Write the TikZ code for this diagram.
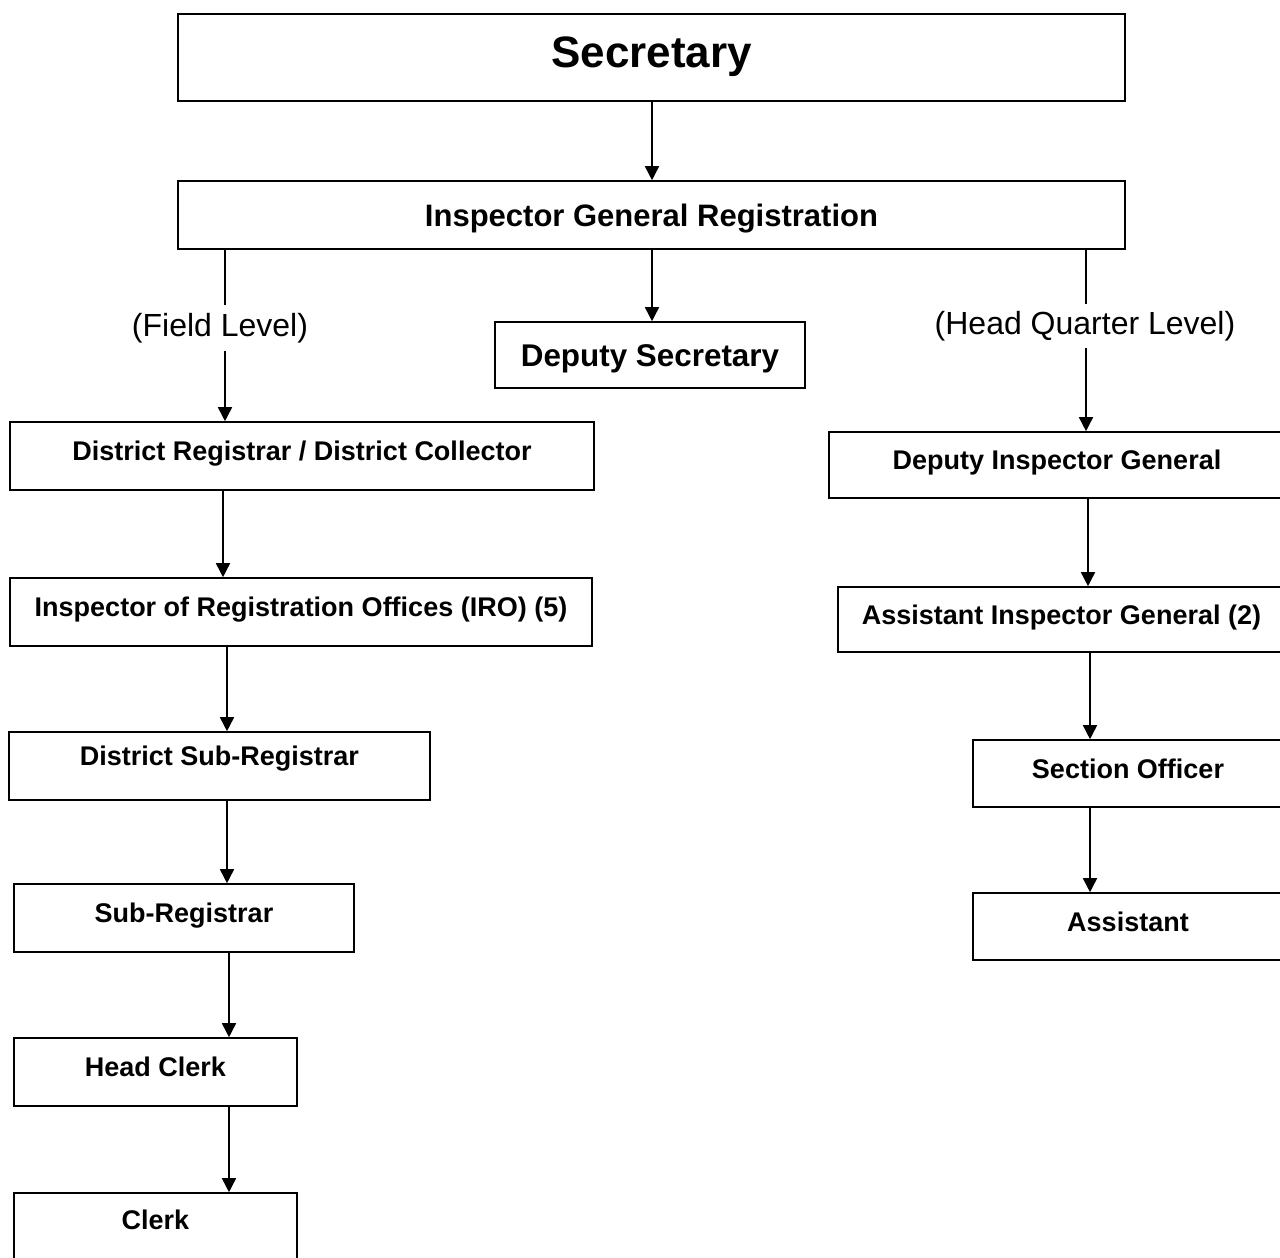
\documentclass[tikz,border=0pt]{standalone}
\usepackage{fontspec}
\setmainfont{Liberation Sans}
\usetikzlibrary{arrows.meta}
\begin{document}
\begin{tikzpicture}[x=1pt,y=-1pt,
  box/.style={draw,line width=1.6pt,inner sep=0pt,
    font=\fontsize{27}{32}\selectfont\bfseries,text height=20pt,text depth=10.6pt},
  lvl/.style={font=\fontsize{32}{38}\selectfont,inner xsep=2pt,inner ysep=8pt,
    text height=24pt,text depth=6.4pt},
  conn/.style={line width=1.6pt},
  arr/.style={conn,-{Triangle[width=14pt,length=14pt]}}]
\path[fill=white] (0,0) rectangle (1280,1258);
\useasboundingbox (0,0) rectangle (1280,1258);

% top of the hierarchy
\node[box,minimum width=947pt,minimum height=87pt,
  font=\fontsize{44}{52}\selectfont\bfseries,text height=32pt,text depth=12.5pt]
  (sec) at (651.5,57.5) {Secretary};
\node[box,minimum width=947pt,minimum height=68pt,
  font=\fontsize{31}{37}\selectfont\bfseries,text height=22pt,text depth=0pt]
  (igr) at (651.5,215) {Inspector General Registration};
\node[box,minimum width=310pt,minimum height=66pt,
  font=\fontsize{31.4}{37}\selectfont\bfseries,text height=22.5pt,text depth=0pt]
  (ds) at (650,355) {Deputy Secretary};

% field level branch
\node[lvl] (field) at (220,328) {(Field Level)};
\node[box,minimum width=584pt,minimum height=68pt] (dr) at (302,456)
  {District Registrar / District Collector};
\node[box,minimum width=582pt,minimum height=68pt] (iro) at (301,612)
  {Inspector of Registration Offices (IRO) (5)};
\node[box,minimum width=421pt,minimum height=68pt,text depth=20.6pt] (dsr) at (219.5,766)
  {District Sub-Registrar};
\node[box,minimum width=340pt,minimum height=68pt] (sr) at (184,918) {Sub-Registrar};
\node[box,minimum width=283pt,minimum height=68pt] (hc) at (155.5,1072) {Head Clerk};
\node[box,minimum width=283pt,minimum height=68pt,text depth=15pt] (clk) at (155.5,1227) {Clerk};

% head quarter level branch
\node[lvl,inner ysep=7pt] (hq) at (1085,326) {(Head Quarter Level)};
\node[box,minimum width=456pt,minimum height=66pt] (dig) at (1057,465)
  {Deputy Inspector General};
\node[box,minimum width=447pt,minimum height=65pt] (aig) at (1061.5,619.5)
  {Assistant Inspector General (2)};
\node[box,minimum width=310pt,minimum height=67pt] (so) at (1128,773.5) {Section Officer};
\node[box,minimum width=310pt,minimum height=67pt] (asst) at (1128,926.5) {Assistant};

% columns of the connectors
\coordinate (xm) at (652,0);
\coordinate (xf) at (225,0);
\coordinate (xa) at (223,0);
\coordinate (xb) at (227,0);
\coordinate (xc) at (229,0);
\coordinate (xh) at (1086,0);
\coordinate (xi) at (1088,0);
\coordinate (xj) at (1090,0);

\draw[arr] (sec.south -| xm) -- (igr.north -| xm);
\draw[arr] (igr.south -| xm) -- (ds.north -| xm);

\draw[conn] (igr.south -| xf) -- (field.north -| xf);
\draw[arr] (field.south -| xf) -- (dr.north -| xf);
\draw[arr] (dr.south -| xa) -- (iro.north -| xa);
\draw[arr] (iro.south -| xb) -- (dsr.north -| xb);
\draw[arr] (dsr.south -| xb) -- (sr.north -| xb);
\draw[arr] (sr.south -| xc) -- (hc.north -| xc);
\draw[arr] (hc.south -| xc) -- (clk.north -| xc);

\draw[conn] (igr.south -| xh) -- (hq.north -| xh);
\draw[arr] (hq.south -| xh) -- (dig.north -| xh);
\draw[arr] (dig.south -| xi) -- (aig.north -| xi);
\draw[arr] (aig.south -| xj) -- (so.north -| xj);
\draw[arr] (so.south -| xj) -- (asst.north -| xj);
\end{tikzpicture}
\end{document}
